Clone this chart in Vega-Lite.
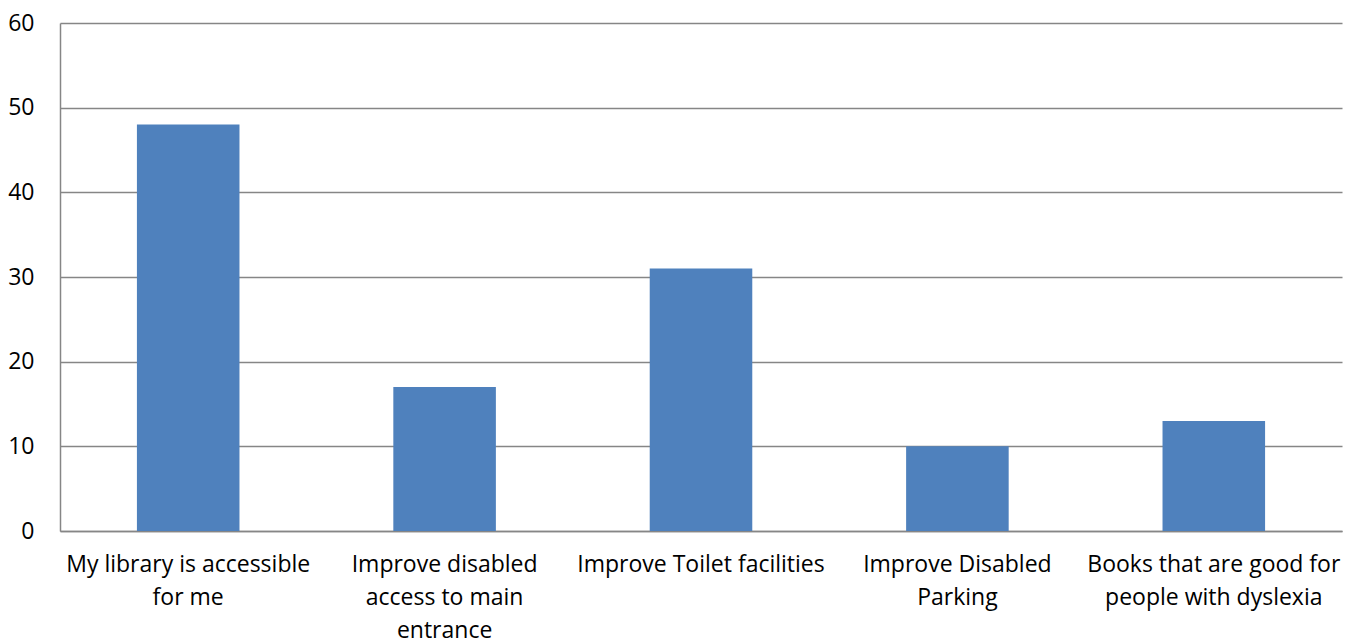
{
  "$schema": "https://vega.github.io/schema/vega-lite/v6.json",
  "autosize": "none",
  "padding": {"left": 60, "top": 23, "right": 19, "bottom": 108},
  "width": 1282,
  "height": 508,
  "background": "white",
  "data": {
    "values": [
      {"answer": "My library is accessible|for me", "count": 48},
      {"answer": "Improve disabled|access to main|entrance", "count": 17},
      {"answer": "Improve Toilet facilities", "count": 31},
      {"answer": "Improve Disabled|Parking", "count": 10},
      {"answer": "Books that are good for|people with dyslexia", "count": 13}
    ]
  },
  "mark": {"type": "bar", "color": "#4F81BD"},
  "encoding": {
    "x": {
      "field": "answer",
      "type": "nominal",
      "sort": null,
      "title": null,
      "scale": {"paddingInner": 0.6, "paddingOuter": 0.3},
      "axis": {
        "labelExpr": "split(datum.value, '|')",
        "labelAngle": 0,
        "labelFont": "Open Sans",
        "labelFontSize": 23,
        "labelColor": "#000000",
        "labelLineHeight": 33,
        "labelPadding": 22,
        "labelLimit": 0,
        "ticks": false,
        "domainColor": "#868686",
        "domainWidth": 1.5,
        "grid": false
      }
    },
    "y": {
      "field": "count",
      "type": "quantitative",
      "title": null,
      "scale": {"domain": [0, 60]},
      "axis": {
        "values": [0, 10, 20, 30, 40, 50, 60],
        "labelFont": "Open Sans",
        "labelFontSize": 23,
        "labelColor": "#000000",
        "labelPadding": 26,
        "ticks": false,
        "domainColor": "#868686",
        "domainWidth": 1.5,
        "gridColor": "#868686",
        "gridWidth": 1.5
      }
    }
  },
  "config": {"view": {"stroke": null}}
}
